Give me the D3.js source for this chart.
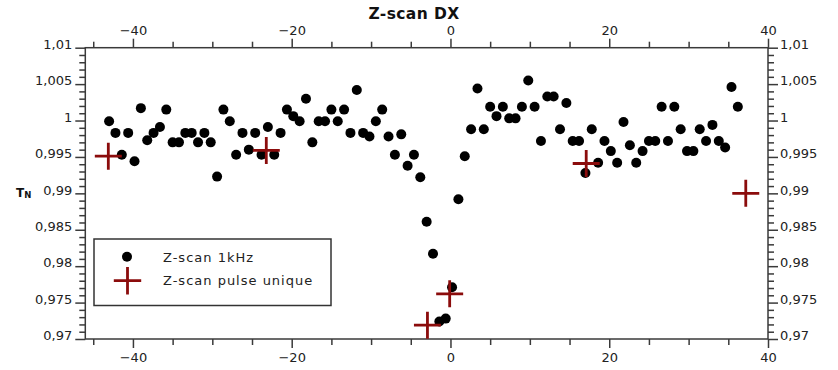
<!DOCTYPE html>
<html>
<head>
<meta charset="utf-8">
<script src="https://cdn.jsdelivr.net/npm/d3@7"></script>
<style>
    body { margin: 0; background: #fff; }
    svg { display: block; font-family: 'DejaVu Sans', sans-serif; }
    .axis path, .axis line { stroke: #3a3a3a; stroke-width: 1.5; }
    .axis text { fill: #222; font-size: 13px; font-family: 'DejaVu Sans', sans-serif; }
</style>
</head>
<body>
<div id="chart"></div>
<script>
// z-scan 1kHz series
const scanX = [
    -43.0, -42.2, -41.4, -40.6, -39.8, -39.0, -38.2, -37.4, -36.6, -35.8,
    -35.0, -34.2, -33.4, -32.6, -31.8, -31.0, -30.2, -29.4, -28.6, -27.8,
    -27.0, -26.2, -25.4, -24.6, -23.8, -23.0, -22.2, -21.4, -20.6, -19.8,
    -19.0, -18.2, -17.4, -16.6, -15.8, -15.0, -14.2, -13.4, -12.6, -11.8,
    -11.0, -10.2, -9.4, -8.6, -7.8, -7.0, -6.2, -5.4, -4.6, -3.8,
    -3.0, -2.2, -1.4, -0.6, 0.2, 1.0, 1.8, 2.6, 3.4, 4.2,
    5.0, 5.8, 6.6, 7.4, 8.2, 9.0, 9.8, 10.6, 11.4, 12.2,
    13.0, 13.8, 14.6, 15.4, 16.2, 17.0, 17.8, 18.6, 19.4, 20.2,
    21.0, 21.8, 22.6, 23.4, 24.2, 25.0, 25.8, 26.6, 27.4, 28.2,
    29.0, 29.8, 30.6, 31.4, 32.2, 33.0, 33.8, 34.6, 35.4, 36.2
];
const scanT = [
    0.9999, 0.9983, 0.9953, 0.9983, 0.9944, 1.0017, 0.9973, 0.9983, 0.9991, 1.0015,
    0.9970, 0.9970, 0.9983, 0.9983, 0.9970, 0.9983, 0.9970, 0.9923, 1.0015, 0.9999,
    0.9953, 0.9983, 0.9960, 0.9983, 0.9953, 0.9991, 0.9953, 0.9983, 1.0015, 1.0006,
    0.9999, 1.0030, 0.9970, 0.9999, 0.9999, 1.0015, 0.9999, 1.0015, 0.9983, 1.0042,
    0.9983, 0.9978, 0.9999, 1.0015, 0.9978, 0.9953, 0.9981, 0.9938, 0.9953, 0.9922,
    0.9861, 0.9817, 0.9724, 0.9728, 0.9771, 0.9892, 0.9951, 0.9988, 1.0044, 0.9988,
    1.0019, 1.0006, 1.0019, 1.0003, 1.0003, 1.0019, 1.0055, 1.0019, 0.9972, 1.0033,
    1.0033, 0.9988, 1.0024, 0.9972, 0.9972, 0.9928, 0.9988, 0.9942, 0.9972, 0.9958,
    0.9942, 0.9998, 0.9966, 0.9942, 0.9958, 0.9972, 0.9972, 1.0019, 0.9972, 1.0019,
    0.9988, 0.9958, 0.9958, 0.9988, 0.9972, 0.9994, 0.9972, 0.9963, 1.0046, 1.0019
];

// z-scan single pulse series
const pulseX = [-43.1, -23.2, -2.9, -0.1, 17.1, 37.2];
const pulseT = [0.9951, 0.9959, 0.9719, 0.9762, 0.9941, 0.9900];

// tick values and labels
const xMajorTicks = [-40, -20, 0, 20, 40];
const xMajorLabels = ['\u221240', '\u221220', '0', '20', '40'];
const xMinorTicks = [-45, -35, -30, -25, -15, -10, -5, 5, 10, 15, 25, 30, 35];
const yMajorTicks = [0.97, 0.975, 0.98, 0.985, 0.99, 0.995, 1, 1.005, 1.01];
const yMajorLabels = ['0,97', '0,975', '0,98', '0,985', '0,99', '0,995', '1', '1,005', '1,01'];
const yMinorTicks = [];
for (let i = 0; i <= 40; i++) {
    if (i % 5 !== 0) yMinorTicks.push(0.97 + i * 0.001);
}

const seriesNames = ['Z-scan 1kHz', 'Z-scan pulse unique'];

const width = 838;
const height = 370;
const plot = { left: 85.3, right: 768, top: 47.7, bottom: 339 };
const pulseColor = '#8b0c0c';

const svg = d3.select('#chart')
    .append('svg')
    .attr('width', width)
    .attr('height', height);

const x = d3.scaleLinear().domain([-46, 40]).range([plot.left, plot.right]);
const y = d3.scaleLinear().domain([0.97, 1.01]).range([plot.bottom, plot.top]);

const xLabel = d => xMajorLabels[xMajorTicks.indexOf(d)];
const yLabel = d => yMajorLabels[yMajorTicks.indexOf(d)];

// minor ticks first, majors on top
function addAxis(axisFn, scale, ticks, size, fmt, transform, pad) {
    const g = svg.append('g')
        .attr('class', 'axis')
        .attr('transform', transform)
        .call(axisFn(scale).tickValues(ticks).tickSize(size).tickSizeOuter(0)
            .tickPadding(pad).tickFormat(fmt));
    g.select('.domain').remove();
    return g;
}

const none = () => '';
addAxis(d3.axisBottom, x, xMinorTicks, 6, none, `translate(0,${plot.bottom})`, 3);
addAxis(d3.axisTop, x, xMinorTicks, 6, none, `translate(0,${plot.top})`, 3);
addAxis(d3.axisLeft, y, yMinorTicks, 6, none, `translate(${plot.left},0)`, 3);
addAxis(d3.axisRight, y, yMinorTicks, 6, none, `translate(${plot.right},0)`, 3);

addAxis(d3.axisBottom, x, xMajorTicks, 9, xLabel, `translate(0,${plot.bottom})`, 5);
addAxis(d3.axisTop, x, xMajorTicks, 9, xLabel, `translate(0,${plot.top})`, 4);
addAxis(d3.axisLeft, y, yMajorTicks, 10, yLabel, `translate(${plot.left},0)`, 3)
    .selectAll('text').attr('dy', '0.05em');
addAxis(d3.axisRight, y, yMajorTicks, 10, yLabel, `translate(${plot.right},0)`, 2)
    .selectAll('text').attr('dy', '0.05em');

// frame lines
svg.append('rect')
    .attr('x', plot.left)
    .attr('y', plot.top)
    .attr('width', plot.right - plot.left)
    .attr('height', plot.bottom - plot.top)
    .attr('fill', 'none')
    .attr('stroke', '#3a3a3a')
    .attr('stroke-width', 1.5);

// title
svg.append('text')
    .attr('x', 414)
    .attr('y', 19)
    .attr('text-anchor', 'middle')
    .style('font-size', '15.5px')
    .style('font-weight', 'bold')
    .style('letter-spacing', '0.4px')
    .style('fill', '#111')
    .text('Z-scan DX');

// y axis title T_N
const yt = svg.append('text')
    .attr('x', 16)
    .attr('y', 197)
    .style('font-weight', 'bold')
    .style('fill', '#111');
yt.append('tspan').style('font-size', '12px').text('T');
yt.append('tspan').attr('dy', 1).style('font-size', '8.5px').text('N');

// dots
svg.append('g')
    .selectAll('circle')
    .data(scanX.map((v, i) => [v, scanT[i]]))
    .enter()
    .append('circle')
    .attr('cx', d => x(d[0]))
    .attr('cy', d => y(d[1]))
    .attr('r', 5)
    .attr('fill', '#000');

// crosses
function cross(g, cx, cy, r) {
    g.append('path')
        .attr('d', `M${cx - r},${cy}H${cx + r}M${cx},${cy - r}V${cy + r}`)
        .attr('stroke', pulseColor)
        .attr('stroke-width', 2.8)
        .attr('fill', 'none');
}
const crossLayer = svg.append('g');
pulseX.forEach((v, i) => cross(crossLayer, x(v), y(pulseT[i]), 13.5));

// legend
const legend = svg.append('g');
legend.append('rect')
    .attr('x', 94)
    .attr('y', 239)
    .attr('width', 237)
    .attr('height', 66.5)
    .attr('fill', '#fff')
    .attr('stroke', '#333')
    .attr('stroke-width', 1.5);
legend.append('circle')
    .attr('cx', 127)
    .attr('cy', 256.7)
    .attr('r', 5)
    .attr('fill', '#000');
cross(legend, 127.5, 280.7, 13.7);
legend.selectAll('text.lbl')
    .data(seriesNames)
    .enter()
    .append('text')
    .attr('class', 'lbl')
    .attr('x', 163)
    .attr('y', (d, i) => 261.5 + i * 23.5)
    .style('font-size', '13px')
    .style('letter-spacing', '1px')
    .style('fill', '#222')
    .text(d => d);
</script>
</body>
</html>
